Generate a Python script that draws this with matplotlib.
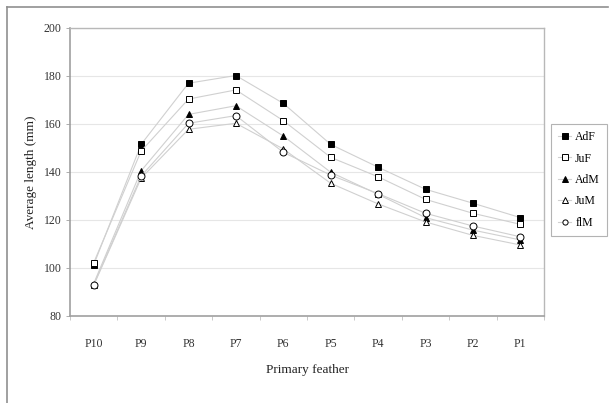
import matplotlib.pyplot as plt
from matplotlib.lines import Line2D
import numpy as np

feathers = ["P10", "P9", "P8", "P7", "P6", "P5", "P4", "P3", "P2", "P1"]

adf = [101.3, 151.5, 177.0, 180.2, 168.6, 151.5, 142.0, 132.8, 127.0, 121.0]
juf = [102.2, 148.7, 170.4, 174.2, 161.4, 146.1, 138.0, 128.6, 122.8, 118.2]
adm = [93.5, 140.5, 164.0, 167.6, 155.0, 139.9, 130.7, 121.0, 115.8, 111.7]
jum = [92.8, 137.4, 157.8, 160.3, 149.6, 135.3, 126.7, 119.2, 113.6, 109.6]
flm = [93.0, 138.3, 160.3, 163.5, 148.2, 138.7, 131.0, 122.8, 117.5, 113.0]

series = [
    ("AdF", adf, "s", "black"),
    ("JuF", juf, "s", "white"),
    ("AdM", adm, "^", "black"),
    ("JuM", jum, "^", "white"),
    ("flM", flm, "o", "white"),
]

plt.rcParams["font.family"] = ["Liberation Serif", "DejaVu Serif"]

W, H = 611, 403
fig = plt.figure(figsize=(W / 100, H / 100), dpi=100)
ax = fig.add_axes([70 / W, (H - 316) / H, 474 / W, 288 / H])

x = np.arange(len(feathers))
for name, vals, mk, fc in series:
    ax.plot(x, vals, color="#d0d0d0", lw=0.8, marker=mk, markersize=5,
            markerfacecolor=fc, markeredgecolor="black", markeredgewidth=0.7,
            label=name, zorder=3)

ax.set_xlim(-0.5, len(feathers) - 0.5)
ax.set_ylim(80, 200)
ax.set_yticks(np.arange(80, 201, 20))
ax.yaxis.grid(True, color="#e6e6e6", lw=0.8)
ax.set_axisbelow(True)

ax.set_xticks(x)
ax.set_xticklabels(feathers)
ax.set_xticks(np.arange(-0.5, len(feathers)), minor=True)
ax.tick_params(axis="x", which="major", length=0, pad=16, labelsize=8.5,
               labelcolor="#333333")
ax.tick_params(axis="x", which="minor", length=3, color="#c0c0c0", width=0.6)
ax.tick_params(axis="y", length=3, color="#a0a0a0", width=0.6, pad=3,
               labelsize=8.5, labelcolor="#333333")

for side in ["left", "bottom"]:
    ax.spines[side].set_color("#a0a0a0")
    ax.spines[side].set_linewidth(1.2)
for side in ["top", "right"]:
    ax.spines[side].set_color("#b8b8b8")
    ax.spines[side].set_linewidth(1.0)

ax.set_xlabel("Primary feather", fontsize=9.5, color="#222222")
ax.set_ylabel("Average length (mm)", fontsize=9.5, color="#222222")
ax.xaxis.set_label_coords(0.5, (316 - 364) / 288)
ax.yaxis.set_label_coords((37 - 70) / 474, 0.5)

leg = ax.legend(loc="upper left", bbox_to_anchor=(551 / W, (H - 124) / H),
                bbox_transform=fig.transFigure, frameon=True, fancybox=False,
                fontsize=8.5, handlelength=1.1, labelspacing=0.8,
                borderpad=0.6, handletextpad=0.35, borderaxespad=0,
                markerscale=0.75)
leg.get_frame().set_edgecolor("#a0a0a0")
leg.get_frame().set_linewidth(0.8)

# outer chart border (top and left visible)
fig.add_artist(Line2D([7 / W, 608 / W], [(H - 7) / H, (H - 7) / H],
                      transform=fig.transFigure, color="#909090", lw=1.2))
fig.add_artist(Line2D([7 / W, 7 / W], [0, (H - 7) / H],
                      transform=fig.transFigure, color="#909090", lw=1.2))

fig.savefig("out.png", dpi=100)
